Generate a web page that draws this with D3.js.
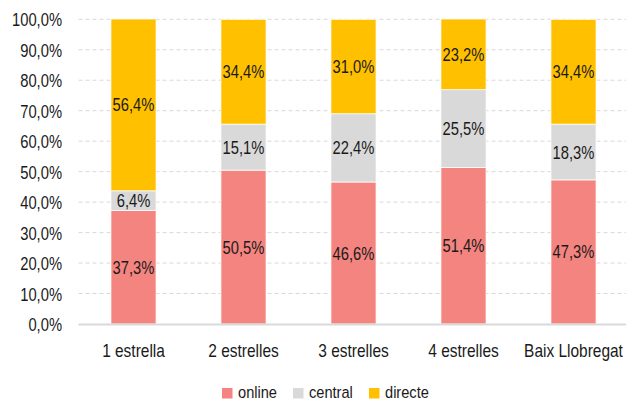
<!DOCTYPE html>
<html><head><meta charset="utf-8">
<script src="https://cdn.jsdelivr.net/npm/d3@7"></script>
<style>
body{margin:0;background:#fff;}
text{font-family:"Liberation Sans Narrow","Arial Narrow","Liberation Sans",sans-serif;fill:#1a1a1a;}
</style></head><body>
<svg id="c" width="628" height="403"></svg>
<script>
const categories = ["1 estrella","2 estrelles","3 estrelles","4 estrelles","Baix Llobregat"];
const seriesNames = ["online","central","directe"];
const online  = [37.3, 50.5, 46.6, 51.4, 47.3];
const central = [6.4, 15.1, 22.4, 25.5, 18.3];
const directe = [56.4, 34.4, 31.0, 23.2, 34.4];
const yTicks = [0,10,20,30,40,50,60,70,80,90,100];
const colors = ["#F4847F","#D9D9D9","#FFC000"];

const SX = 0.82, FS = "18px";
const svg = d3.select("#c");
const m = {l:78.5, r:628.5, t:19.3, b:324};
const x = d3.scaleBand().domain(categories).range([m.l, m.r]).paddingInner(0.59).paddingOuter(0.295);
const y = d3.scaleLinear().domain([0,100]).range([m.b, m.t]);
const fmt = v => d3.format(".1f")(v).replace(".", ",") + "%";

function narrowText(parent, tx, ty, str, anchor, fs, sx){
  const gg = parent.append("g").attr("transform",`translate(${tx},${ty}) scale(${sx||SX},1)`);
  gg.append("text").attr("text-anchor",anchor||"middle").attr("dominant-baseline","central")
    .style("font-size",fs||FS).text(str);
  return gg;
}

// gridlines
svg.append("g").selectAll("line").data(yTicks.filter(d=>d>0)).join("line")
  .attr("x1", m.l).attr("x2", 626).attr("y1", d=>y(d)).attr("y2", d=>y(d))
  .attr("stroke","#d9d9d9").attr("stroke-width",1).attr("stroke-dasharray","4,3");

// y labels
const yAxis = d3.axisLeft(y).tickValues(yTicks).tickFormat(fmt).tickSize(0).tickPadding(0);
const ya = svg.append("g").attr("transform",`translate(62,0)`).call(yAxis);
ya.select(".domain").remove();
ya.selectAll("text").attr("dy",null).attr("dominant-baseline","central")
  .style("font-size",FS).attr("fill","#1a1a1a").attr("transform",`scale(${SX},1)`);

const rows = categories.map((c,i)=>({cat:c, online:online[i], central:central[i], directe:directe[i]}));
const stack = d3.stack().keys(seriesNames)(rows);

const g = svg.append("g");
stack.forEach((s,si)=>{
  g.append("g").selectAll("rect").data(s).join("rect")
    .attr("x", d=>x(d.data.cat)).attr("width", x.bandwidth())
    .attr("y", d=>y(d[1])).attr("height", d=>y(d[0])-y(d[1]))
    .attr("fill", colors[si]).attr("stroke","#fff").attr("stroke-width",0.75);
});
stack.forEach((s)=>{
  s.forEach(d=>{
    narrowText(g, x(d.data.cat)+x.bandwidth()/2, (y(d[0])+y(d[1]))/2, fmt(d[1]-d[0]));
  });
});

// x axis line
svg.append("line").attr("x1",m.l).attr("x2",626).attr("y1",m.b+0.5).attr("y2",m.b+0.5)
  .attr("stroke","#d9d9d9").attr("stroke-width",2);

const xAxis = d3.axisBottom(x).tickSize(0).tickPadding(0);
const xa = svg.append("g").attr("transform",`translate(0,${m.b})`).call(xAxis);
xa.select(".domain").remove();
xa.selectAll("text").attr("dy",null).attr("y",0).attr("dominant-baseline","central")
  .style("font-size",FS).attr("fill","#1a1a1a").attr("transform",`translate(0,27) scale(0.86,1)`);

// legend
const legX = [222, 293, 369];
const leg = svg.append("g");
seriesNames.forEach((n,i)=>{
  leg.append("rect").attr("x",legX[i]).attr("y",388).attr("width",10.5).attr("height",10.5).attr("fill",colors[i]);
  narrowText(leg, legX[i]+16, 392.5, n, "start", "17px", 0.86);
});
</script>
</body></html>
